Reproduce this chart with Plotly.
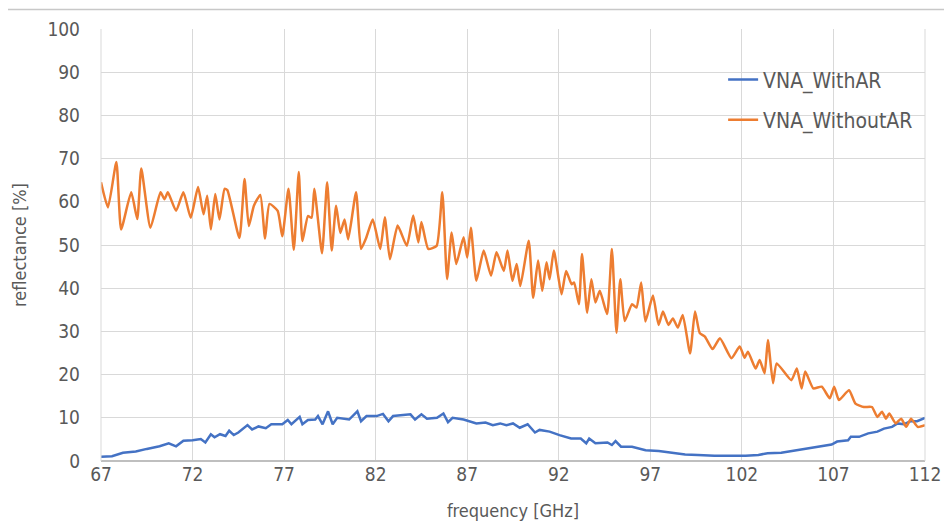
import plotly.graph_objects as go

# ---- data ----
freq_with_ar = [67.0, 67.6, 68.2, 68.9, 69.5, 70.2, 70.7, 71.1, 71.5, 72.0, 72.45, 72.7, 73.0, 73.2, 73.5,
                73.8, 74.0, 74.25, 74.5, 75.0, 75.25, 75.6, 76.0, 76.3, 76.9, 77.2, 77.4, 77.85, 78.0, 78.3,
                78.7, 78.85, 79.1, 79.4, 79.65, 79.9, 80.55, 81.0, 81.2, 81.5, 82.05, 82.4, 82.7, 82.95, 83.9,
                84.15, 84.5, 84.8, 85.35, 85.7, 85.95, 86.2, 86.8, 87.5, 88.0, 88.4, 88.8, 89.14, 89.5, 89.87,
                90.3, 90.7, 90.95, 91.5, 92.04, 92.67, 93.2, 93.5, 93.66, 94.0, 94.66, 94.9, 95.1, 95.4, 96.0,
                96.74, 97.46, 98.2, 98.9, 99.6, 100.5, 101.4, 102.2, 102.9, 103.4, 104.15, 104.7, 105.2, 105.8,
                106.3, 106.9, 107.2, 107.8, 107.95, 108.4, 108.9, 109.4, 109.76, 110.2, 110.5, 110.84, 111.2,
                111.57, 112.0]
vna_with_ar = [1.0, 1.1, 1.9, 2.2, 2.8, 3.4, 4.1, 3.4, 4.7, 4.8, 5.1, 4.3, 6.2, 5.5, 6.2,
               5.8, 7.0, 6.0, 6.6, 8.3, 7.3, 8.0, 7.6, 8.5, 8.5, 9.5, 8.5, 10.2, 8.5, 9.5,
               9.6, 10.4, 8.5, 11.5, 8.5, 10.0, 9.6, 11.5, 9.2, 10.4, 10.4, 10.9, 9.2, 10.4, 10.8,
               9.6, 10.8, 9.8, 10.0, 11.0, 9.0, 10.0, 9.6, 8.7, 8.9, 8.3, 8.7, 8.3, 8.7, 7.7,
               8.5, 6.6, 7.2, 6.8, 6.0, 5.2, 5.2, 4.1, 5.2, 4.1, 4.3, 3.7, 4.6, 3.3, 3.3,
               2.5, 2.3, 1.8, 1.5, 1.4, 1.2, 1.2, 1.2, 1.4, 1.8, 1.9, 2.3, 2.5, 3.1,
               3.3, 3.8, 4.5, 4.8, 5.6, 5.6, 6.4, 6.8, 7.5, 7.9, 8.7, 8.5, 9.2,
               9.2, 10.0]

freq_without_ar = [67.0, 67.38, 67.84, 68.1, 68.65, 68.98, 69.2, 69.7, 70.25, 70.47, 70.65, 71.1, 71.5, 71.9,
                   72.3, 72.6, 72.8, 73.0, 73.24, 73.47, 73.75, 73.9, 74.56, 74.84, 75.07, 75.35, 75.7, 75.96,
                   76.2, 76.65, 76.9, 77.24, 77.53, 77.8, 78.0, 78.3, 78.5, 78.65, 79.07, 79.35, 79.6, 79.84,
                   80.07, 80.3, 80.5, 80.93, 81.2, 81.47, 81.84, 82.25, 82.5, 82.78, 83.2, 83.7, 84.05, 84.33,
                   84.5, 84.87, 85.33, 85.64, 85.9, 86.15, 86.4, 86.8, 87.0, 87.2, 87.5, 87.9, 88.3, 88.6,
                   89.0, 89.2, 89.47, 89.7, 89.9, 90.36, 90.6, 90.87, 91.1, 91.33, 91.5, 91.73, 92.15, 92.4,
                   92.7, 92.84, 93.1, 93.27, 93.55, 93.78, 94.0, 94.24, 94.64, 94.9, 95.15, 95.36, 95.6, 96.0,
                   96.24, 96.5, 96.73, 97.14, 97.45, 97.69, 97.99, 98.23, 98.5, 98.77, 99.17, 99.44, 99.7,
                   99.98, 100.4, 100.8, 101.43, 101.88, 102.15, 102.33, 102.75, 102.97, 103.24, 103.42, 103.7,
                   103.9, 104.7, 105.0, 105.26, 105.46, 105.9, 106.36, 106.8, 107.04, 107.3, 107.85, 108.2,
                   108.66, 109.1, 109.4, 109.65, 109.87, 110.05, 110.4, 110.7, 110.97, 111.24, 111.6, 112.0]
vna_without_ar = [64.5, 58.7, 69.2, 53.6, 62.2, 56.0, 67.7, 54.0, 62.2, 60.6, 62.2, 57.9, 62.2, 56.3,
                  63.4, 57.1, 61.4, 53.6, 61.8, 55.9, 63.0, 62.7, 51.6, 65.3, 54.4, 59.1, 61.6, 51.5,
                  59.5, 57.9, 52.0, 63.0, 48.9, 66.9, 50.9, 56.7, 56.3, 63.0, 48.1, 64.5, 48.7, 59.1,
                  52.8, 55.9, 51.3, 62.2, 49.1, 51.5, 55.9, 49.1, 56.4, 46.7, 54.5, 49.8, 56.8, 50.6,
                  55.3, 49.1, 49.8, 62.2, 42.1, 52.9, 45.6, 51.8, 47.1, 54.0, 41.7, 48.7, 42.9, 48.3,
                  44.0, 48.7, 41.7, 45.6, 40.5, 51.0, 37.8, 46.4, 39.4, 46.0, 42.1, 48.7, 38.6, 44.0,
                  40.9, 41.3, 36.3, 47.9, 34.3, 42.1, 36.7, 39.4, 34.0, 49.1, 29.7, 42.1, 32.4, 36.3,
                  35.5, 41.3, 32.3, 38.3, 31.5, 34.6, 31.5, 33.0, 30.9, 33.8, 24.9, 34.6, 29.6,
                  28.8, 25.9, 28.4, 23.8, 26.5, 23.9, 25.3, 21.4, 23.4, 20.3, 28.0, 18.0,
                  22.6, 18.7, 21.4, 16.8, 20.7, 16.8, 17.2, 14.5, 17.2, 14.1, 16.4, 13.3,
                  12.5, 12.5, 10.2, 11.4, 9.8, 11.0, 8.7, 9.8, 7.9, 9.8, 7.9, 8.3]

x_ticks = [67, 72, 77, 82, 87, 92, 97, 102, 107, 112]
y_ticks = [0, 10, 20, 30, 40, 50, 60, 70, 80, 90, 100]
series_names = ["VNA_WithAR", "VNA_WithoutAR"]
x_title = "frequency [GHz]"
y_title = "reflectance [%]"

FONT = "DejaVu Sans Condensed, Liberation Sans Narrow, Liberation Sans, sans-serif"
TXT = "#595959"
GRID = "#d9d9d9"

fig = go.Figure()
fig.add_trace(go.Scatter(x=freq_with_ar, y=vna_with_ar, name=series_names[0], mode="lines",
                         legendgroup="a", line=dict(color="#4472C4", width=2.5)))
fig.add_trace(go.Scatter(x=freq_without_ar, y=vna_without_ar, name=series_names[1], mode="lines",
                         legendgroup="b",
                         line=dict(color="#ED7D31", width=2.5, shape="spline", smoothing=0.5)))

# the page body has an 8px default margin, so the figure is sized/margined to compensate
fig.update_layout(
    width=944, height=519,
    margin=dict(l=93, r=27, t=21, b=66),
    paper_bgcolor="white", plot_bgcolor="white",
    font=dict(family=FONT, color=TXT, size=18),
    showlegend=True,
    legend=dict(x=0.755, y=0.93, xanchor="left", yanchor="top",
                bgcolor="rgba(0,0,0,0)", font=dict(size=21, color=TXT),
                tracegroupgap=10, itemwidth=30),
    xaxis=dict(range=[67, 112], tickvals=x_ticks, ticktext=[str(t) for t in x_ticks],
               automargin=False,
               showgrid=True, gridcolor=GRID, gridwidth=1, zeroline=False,
               showline=False, ticks="", tickfont=dict(size=19, color=TXT),
               title=dict(text=x_title, font=dict(size=18, color=TXT), standoff=20)),
    yaxis=dict(range=[0, 100], tickvals=y_ticks, showgrid=True, gridcolor=GRID, gridwidth=1,
               automargin=False,
               zeroline=True, zerolinecolor="#bfbfbf", zerolinewidth=1.5,
               showline=False, ticks="", ticklabelstandoff=20, tickfont=dict(size=19, color=TXT),
               title=dict(text=y_title, font=dict(size=18, color=TXT), standoff=16)),
    shapes=[
        dict(type="line", xref="paper", yref="paper", x0=0, x1=0, y0=0, y1=1,
             line=dict(color=GRID, width=1)),
        dict(type="line", xref="paper", yref="paper", x0=1, x1=1, y0=0, y1=1,
             line=dict(color=GRID, width=1)),
        dict(type="line", xref="paper", yref="paper", x0=-0.12, x1=1.04, y0=1.045, y1=1.045,
             line=dict(color="#c8c8c8", width=1.5)),
    ],
)

fig.write_html("out.html")
